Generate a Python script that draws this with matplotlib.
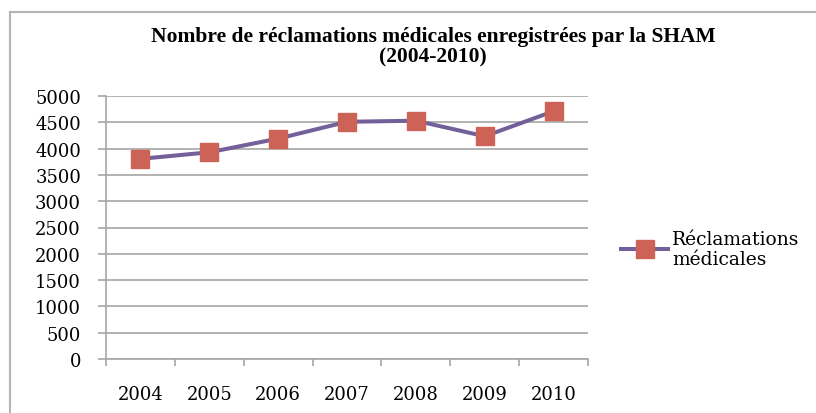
import matplotlib
matplotlib.use("Agg")
import matplotlib.pyplot as plt
from matplotlib.lines import Line2D
import numpy as np

years = ["2004", "2005", "2006", "2007", "2008", "2009", "2010"]
reclamations = [3805, 3930, 4190, 4510, 4530, 4235, 4710]
yticks = [0, 500, 1000, 1500, 2000, 2500, 3000, 3500, 4000, 4500, 5000]
series_label = "Réclamations\nmédicales"
title = "Nombre de réclamations médicales enregistrées par la SHAM\n(2004-2010)"

W, H = 816, 414
fig = plt.figure(figsize=(W / 100, H / 100), dpi=100)
fig.patch.set_facecolor("white")

# outer frame (partially visible)
frame_col = "#b4b4b4"
fig.add_artist(Line2D([10 / W, 10 / W], [0, 1 - 13 / H], transform=fig.transFigure,
                      color=frame_col, lw=1.5))
fig.add_artist(Line2D([10 / W, 1], [1 - 13 / H, 1 - 13 / H], transform=fig.transFigure,
                      color=frame_col, lw=1.5))

ax = fig.add_axes([106 / W, 1 - 360 / H, (588 - 106) / W, (360 - 97) / H])
x = np.arange(len(years))
grid_col = "#a6a6a6"

ax.plot(x, reclamations, color="#73609a", lw=2.9, marker="s", markersize=12.5,
        markerfacecolor="#cd6257", markeredgecolor="#cd6257", zorder=3,
        solid_capstyle="round")

ax.set_xlim(-0.5, len(years) - 0.5)
ax.set_ylim(0, 5000)
ax.set_yticks(yticks)
ax.set_yticklabels([str(v) for v in yticks], family="DejaVu Serif", fontsize=13)
for v in yticks:
    ax.axhline(v, color=grid_col, lw=1.2, zorder=1)

ax.set_xticks(np.arange(-0.5, len(years), 1.0))
ax.set_xticklabels([])
ax.set_xticks(x, minor=True)
ax.set_xticklabels(years, minor=True, family="DejaVu Serif", fontsize=13)
ax.tick_params(axis="x", which="major", length=5, width=1.2, color=grid_col, direction="out")
ax.tick_params(axis="x", which="minor", length=0, pad=19)
ax.tick_params(axis="y", length=6, width=1.2, color=grid_col, pad=12)

for s in ["top", "right"]:
    ax.spines[s].set_visible(False)
for s in ["left", "bottom"]:
    ax.spines[s].set_color(grid_col)
    ax.spines[s].set_linewidth(1.2)

fig.text(433 / W, 1 - 47 / H, title, ha="center", va="center", family="Liberation Serif",
         fontweight="bold", fontsize=15.5, linespacing=1.05)

handle = Line2D([], [], color="#73609a", lw=2.9, marker="s", markersize=12.5,
                markerfacecolor="#cd6257", markeredgecolor="#cd6257")
leg = fig.legend([handle], [series_label], loc="center left",
                 bbox_to_anchor=(612 / W, 1 - 250 / H), frameon=False,
                 prop={"family": "DejaVu Serif", "size": 13.5}, handlelength=2.5,
                 handletextpad=0.2, borderpad=0)

fig.savefig("out.png", dpi=100)
